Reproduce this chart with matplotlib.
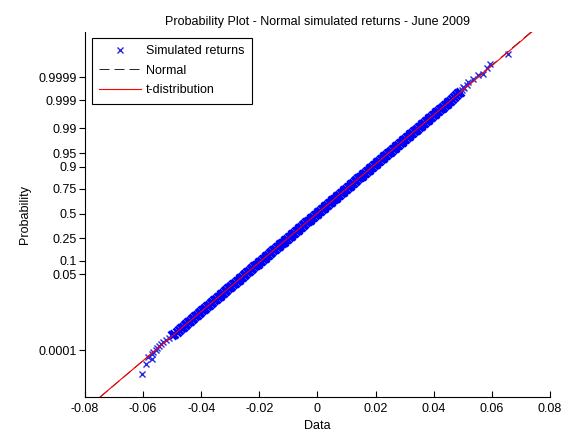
from statistics import NormalDist

import numpy as np
import matplotlib
matplotlib.use('Agg')
import matplotlib.pyplot as plt
from matplotlib.ticker import FixedLocator, FuncFormatter

plt.rcParams['font.family'] = ['Liberation Sans', 'DejaVu Sans']

# simulated returns and their plotting positions
# lower tail
tail_lo_returns = [-0.0604, -0.0590, -0.0571, -0.0583, -0.0570, -0.0565, -0.0557,
                   -0.0553, -0.0545, -0.0538, -0.0530, -0.0520, -0.0512]
tail_lo_probs = [0.0000065, 0.0000207, 0.000036, 0.000048, 0.000062, 0.000082, 0.0001,
                 0.000121, 0.000147, 0.000185, 0.00024, 0.0003, 0.00036]

# dense body of the sample
body_returns = [
    -0.0499, -0.0493, -0.0484, -0.0477, -0.0470, -0.0463, -0.0455,
    -0.04512, -0.04449, -0.04395, -0.04330, -0.04270, -0.04214, -0.04151, -0.04091,
    -0.04035, -0.03972, -0.03912, -0.03855, -0.03792, -0.03733, -0.03670, -0.03613,
    -0.03556, -0.03494, -0.03434, -0.03370, -0.03315, -0.03255, -0.03198, -0.03135,
    -0.03076, -0.03016, -0.02959, -0.02897, -0.02837, -0.02774, -0.02717, -0.02658,
    -0.02601, -0.02538, -0.02479, -0.02421, -0.02359, -0.02299, -0.02243, -0.02180,
    -0.02120, -0.02058, -0.02001, -0.01941, -0.01884, -0.01822, -0.01762, -0.01700,
    -0.01642, -0.01583, -0.01525, -0.01463, -0.01404, -0.01341, -0.01284, -0.01224,
    -0.01165, -0.01105, -0.01047, -0.00986, -0.00926, -0.00868, -0.00806, -0.00747,
    -0.00685, -0.00627, -0.00567, -0.00510, -0.00448, -0.00388, -0.00331, -0.00269,
    -0.00209, -0.00151, -0.00090,
    -0.00030, 0.00030, 0.00091, 0.00149, 0.00209, 0.00267, 0.00328, 0.00388,
    0.00450, 0.00507, 0.00567, 0.00625, 0.00687, 0.00746, 0.00808, 0.00866,
    0.00926, 0.00983, 0.01045, 0.01105, 0.01166, 0.01224, 0.01284, 0.01342,
    0.01403, 0.01463, 0.01525, 0.01582, 0.01642, 0.01700, 0.01762, 0.01821,
    0.01883, 0.01941, 0.02000, 0.02058, 0.02120, 0.02180, 0.02241, 0.02299,
    0.02359, 0.02417, 0.02478, 0.02538, 0.02600, 0.02657, 0.02717, 0.02775,
    0.02837, 0.02896, 0.02958, 0.03016, 0.03075, 0.03133, 0.03195, 0.03255,
    0.03317, 0.03374, 0.03434, 0.03491, 0.03553, 0.03613, 0.03675, 0.03732,
    0.03792, 0.03850, 0.03912, 0.03971, 0.04033, 0.04091, 0.04150, 0.04207,
    0.04270, 0.04330, 0.04392, 0.04449,
    0.0449, 0.0457, 0.0464, 0.0469, 0.0478, 0.0484, 0.0491,
]
body_probs = [
    0.00045, 0.00052, 0.00063, 0.00075, 0.00088, 0.00104, 0.00122,
    0.00135, 0.00154, 0.00175, 0.00199, 0.00226, 0.00256, 0.00289, 0.00326,
    0.00368, 0.00415, 0.00466, 0.00523, 0.00587, 0.00657, 0.00734, 0.00820,
    0.00914, 0.01017, 0.01130, 0.01255, 0.01390, 0.01539, 0.01700, 0.01876,
    0.02068, 0.02275, 0.0250, 0.0274, 0.0301, 0.0329, 0.0359, 0.0392,
    0.0427, 0.0465, 0.0505, 0.0548, 0.0594, 0.0643, 0.0694, 0.0749,
    0.0808, 0.0869, 0.0934, 0.1003, 0.1075, 0.1151, 0.1230, 0.1314,
    0.1401, 0.1492, 0.1587, 0.1685, 0.1788, 0.1894, 0.2005, 0.2119,
    0.2236, 0.2358, 0.2483, 0.2611, 0.2743, 0.2877, 0.3015, 0.3156,
    0.3300, 0.3446, 0.3594, 0.3745, 0.3897, 0.4052, 0.4207, 0.4364,
    0.4522, 0.4681, 0.4840,
    0.5000, 0.5160, 0.5319, 0.5478, 0.5636, 0.5793, 0.5948, 0.6103,
    0.6255, 0.6406, 0.6554, 0.6700, 0.6844, 0.6985, 0.7123, 0.7257,
    0.7389, 0.7517, 0.7642, 0.7764, 0.7881, 0.7995, 0.8106, 0.8212,
    0.8315, 0.8413, 0.8508, 0.8599, 0.8686, 0.8770, 0.8849, 0.8925,
    0.8997, 0.9066, 0.9131, 0.9192, 0.9251, 0.9306, 0.9357, 0.9406,
    0.9452, 0.9495, 0.9535, 0.9573, 0.9608, 0.9641, 0.9671, 0.9699,
    0.9726, 0.9750, 0.97725, 0.97932, 0.98124, 0.98300, 0.98461, 0.98610,
    0.98745, 0.98870, 0.98983, 0.99086, 0.99180, 0.99266, 0.99343, 0.99413,
    0.99477, 0.99534, 0.99585, 0.99632, 0.99674, 0.99711, 0.99744, 0.99774,
    0.99801, 0.99825, 0.99846, 0.99865,
    0.99878, 0.99896, 0.99913, 0.99925, 0.99937, 0.99948, 0.99955,
]

# upper tail
tail_hi_returns = [0.0497, 0.0505, 0.0502, 0.0514, 0.0519, 0.0536, 0.0553,
                   0.0571, 0.0582, 0.0594, 0.0657]
tail_hi_probs = [0.99962, 0.99968, 0.99972, 0.99978, 0.999835, 0.999883, 0.999918,
                 0.999933, 0.9999625, 0.9999765, 0.9999932]

# fitted distributions (location, scale)
norm_mu, norm_sigma = -0.0003, 0.01490
t_mu, t_sigma = -0.0002, 0.01493

prob_ticks = [0.0001, 0.05, 0.1, 0.25, 0.5, 0.75, 0.9, 0.95, 0.99, 0.999, 0.9999]
prob_lim = (2.9e-7, 1 - 3.7e-7)

_nd = NormalDist()


def prob_to_z(p):
    p = np.clip(np.asarray(p, dtype=float), 1e-12, 1 - 1e-12)
    return np.vectorize(_nd.inv_cdf, otypes=[float])(p)


def z_to_prob(z):
    return np.vectorize(_nd.cdf, otypes=[float])(np.asarray(z, dtype=float))


fig = plt.figure(figsize=(5.68, 4.37), dpi=100)
ax = fig.add_axes([0.1496, 0.0915, 0.8187, 0.8352])
ax.set_yscale('function', functions=(prob_to_z, z_to_prob))

# the body stands for thousands of overlapping markers, so it is drawn heavier
ax.plot(body_returns, body_probs, 'x', color='b', ms=5.2, mew=2.0, zorder=2)
h_sim, = ax.plot(tail_lo_returns + tail_hi_returns, tail_lo_probs + tail_hi_probs,
                 'x', color='#2a2ae0', ms=5, mew=1.0, zorder=2,
                 label='Simulated returns')

ends = np.array(prob_lim)
h_norm, = ax.plot(norm_mu + norm_sigma * prob_to_z(ends), ends, color='k',
                  lw=0.6, dashes=(12, 6), zorder=1, label='Normal')
h_t, = ax.plot(t_mu + t_sigma * prob_to_z(ends), ends, color='r', lw=0.8,
               zorder=3, label='t-distribution')

ax.set_xlim(-0.08, 0.08)
ax.set_ylim(*prob_lim)
ax.xaxis.set_major_locator(FixedLocator(np.arange(-0.08, 0.081, 0.02)))
ax.xaxis.set_major_formatter(FuncFormatter(lambda v, _: '%g' % round(v, 4) if abs(v) > 1e-9 else '0'))
ax.yaxis.set_major_locator(FixedLocator(prob_ticks))
ax.yaxis.set_major_formatter(FuncFormatter(lambda v, _: '%g' % v))
ax.yaxis.set_minor_locator(FixedLocator([]))
ax.xaxis.set_minor_locator(FixedLocator([]))

for s in ('top', 'right'):
    ax.spines[s].set_visible(False)
for s in ('left', 'bottom'):
    ax.spines[s].set_linewidth(0.8)
ax.tick_params(axis='y', direction='out', length=4, width=0.8, labelsize=9, pad=2)
ax.tick_params(axis='x', direction='in', length=4, width=0.8, labelsize=9, pad=4)

ax.set_title('Probability Plot - Normal simulated returns - June 2009', fontsize=9, pad=5)
ax.set_xlabel('Data', fontsize=9, labelpad=4)
ax.set_ylabel('Probability', fontsize=9, labelpad=5)

leg = ax.legend(handles=[h_sim, h_norm, h_t], loc='upper left',
                bbox_to_anchor=(0.015, 0.984), borderaxespad=0, fontsize=9,
                fancybox=False, framealpha=1, edgecolor='k', handlelength=3.3,
                handletextpad=0.4, labelspacing=0.6, borderpad=0.6)
leg.get_frame().set_linewidth(0.8)

fig.savefig('out.png', dpi=100)
